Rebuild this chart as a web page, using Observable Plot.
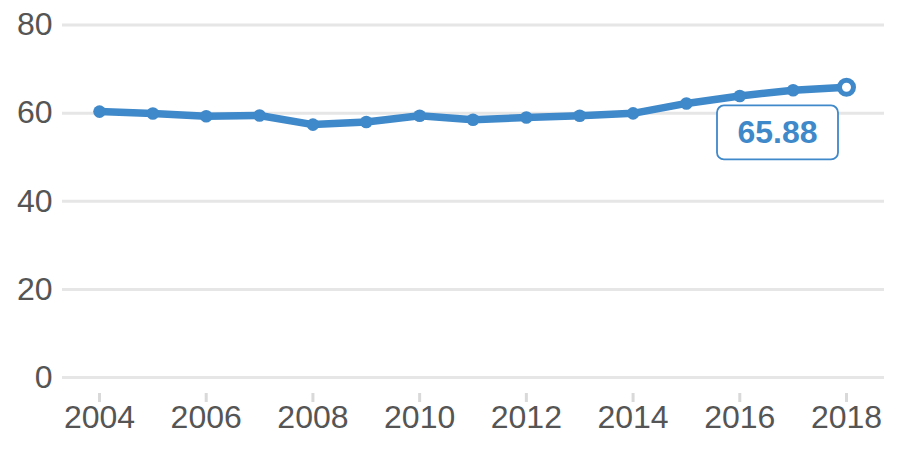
<!DOCTYPE html>
<html><head><meta charset="utf-8">
<script src="https://cdn.jsdelivr.net/npm/d3@7"></script>
<script src="https://cdn.jsdelivr.net/npm/@observablehq/plot@0.6"></script>
<style>html,body{margin:0;padding:0;background:#fff} svg{display:block}</style>
</head><body><div id="chart"></div>
<script>
const years = [2004, 2005, 2006, 2007, 2008, 2009, 2010, 2011, 2012, 2013, 2014, 2015, 2016, 2017, 2018];
const values = [60.35, 59.9, 59.3, 59.45, 57.4, 58.0, 59.4, 58.5, 59.0, 59.4, 59.95, 62.2, 63.9, 65.2, 65.88];
const yTicks = [0, 20, 40, 60, 80];
const xTicks = [2004, 2006, 2008, 2010, 2012, 2014, 2016, 2018];

const data = years.map((year, i) => ({year, value: values[i]}));
const last = data[data.length - 1];
const color = "#3f88c9";

const chart = Plot.plot({
  width: 900, height: 450,
  marginLeft: 62, marginRight: 16, marginTop: 24.5, marginBottom: 73,
  style: {fontFamily: "'Liberation Sans', Arial, sans-serif", fontSize: "32px", color: "#555", background: "#fff"},
  x: {domain: [2004, 2018], insetLeft: 37, insetRight: 38, label: null},
  y: {domain: [0, 80], label: null},
  marks: [
    Plot.ruleY(yTicks, {stroke: "#e6e6e6", strokeWidth: 3}),
    Plot.axisY(yTicks, {tickSize: 0, tickPadding: 10, fontSize: 32, fill: "#555", label: null}),
    Plot.axisX(xTicks, {tickFormat: d => String(d), tickSize: 9, dy: 16, tickPadding: 3, stroke: "#d9d9d9", strokeWidth: 3, fill: "#555", fontSize: 32, label: null}),
    Plot.line(data, {x: "year", y: "value", stroke: color, strokeWidth: 7.5, strokeLinejoin: "round"}),
    Plot.dot(data.slice(0, -1), {x: "year", y: "value", r: 6.3, fill: color}),
    Plot.dot([last], {x: "year", y: "value", r: 7, fill: "white", stroke: color, strokeWidth: 5}),
    Plot.text([last], {x: "year", y: "value", text: d => d.value.toFixed(2), dx: -69, dy: 46, fill: color, fontSize: 32, fontWeight: "bold"})
  ]
});
document.getElementById("chart").appendChild(chart);

// draw the rounded box behind the value label
const labelG = chart.querySelector('g[aria-label="text"]');
if (labelG) {
  labelG.querySelectorAll("text").forEach(t => {
    const b = t.getBBox();
    const w = 121, h = 54;
    const cx = b.x + b.width / 2, cy = b.y + b.height / 2;
    const r = document.createElementNS("http://www.w3.org/2000/svg", "rect");
    r.setAttribute("x", cx - w / 2);
    r.setAttribute("y", cy - h / 2);
    r.setAttribute("width", w);
    r.setAttribute("height", h);
    r.setAttribute("rx", 7);
    r.setAttribute("fill", "white");
    r.setAttribute("stroke", color);
    r.setAttribute("stroke-width", 1.8);
    if (t.getAttribute("transform")) r.setAttribute("transform", t.getAttribute("transform"));
    t.parentNode.insertBefore(r, t);
  });
}
</script>
</body></html>
